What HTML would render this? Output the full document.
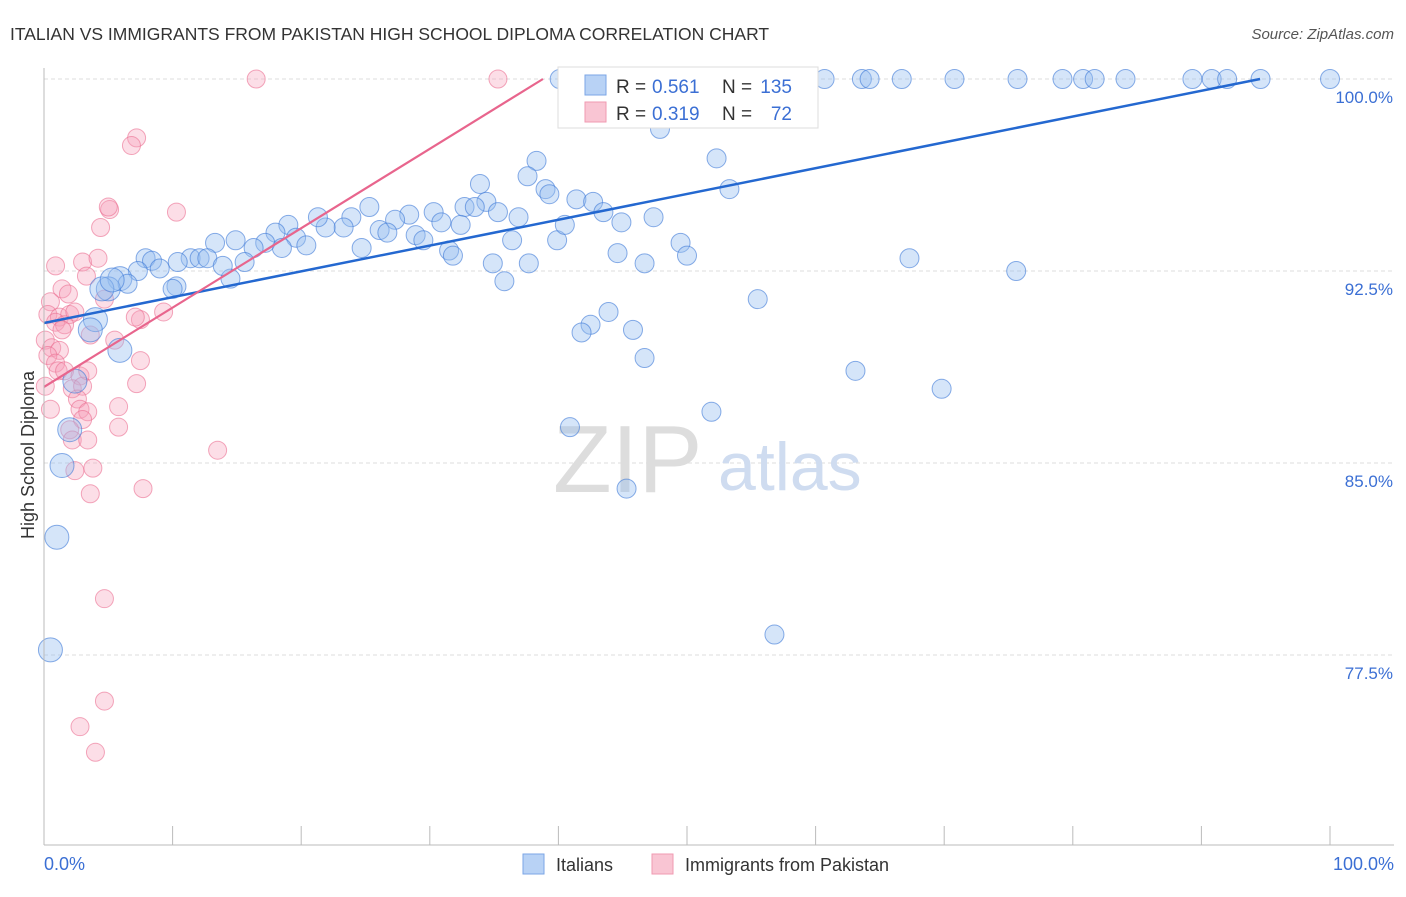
<!DOCTYPE html>
<html><head><meta charset="utf-8">
<style>
body{margin:0;background:#fff;font-family:"Liberation Sans",sans-serif;}
svg text{font-family:"Liberation Sans",sans-serif;}
</style></head>
<body>
<svg id="chart" width="1406" height="892" viewBox="0 0 1406 892" xmlns="http://www.w3.org/2000/svg">
<text x="10" y="40" font-size="17.5" fill="#333">ITALIAN VS IMMIGRANTS FROM PAKISTAN HIGH SCHOOL DIPLOMA CORRELATION CHART</text>
<text x="1394" y="39" font-size="15" fill="#555" font-style="italic" text-anchor="end">Source: ZipAtlas.com</text>
<g id="grid"></g>
<g>
<text x="553" y="492" font-size="96" fill="#ddd" font-family="Liberation Serif">ZIP</text>
<text x="718" y="490" font-size="68" fill="#cfdcf0">atlas</text>
</g>
<g id="pink"></g>
<g id="blue"></g>
<g id="lines"></g>
<g id="axes"></g>
<text transform="translate(34,455) rotate(-90)" font-size="18" fill="#333" text-anchor="middle">High School Diploma</text>
<g>
<rect x="558" y="67" width="260" height="61" fill="#fff" stroke="#ddd"/>
<rect x="585" y="75" width="21" height="20" fill="#b8d2f5" stroke="#7ba6e6"/>
<rect x="585" y="102" width="21" height="20" fill="#f9c5d3" stroke="#f09ab2"/>
<text x="616" y="93" font-size="19" fill="#333">R =</text>
<text x="652" y="93" font-size="19" fill="#3b6fd4">0.561</text>
<text x="722" y="93" font-size="19" fill="#333">N =</text>
<text x="792" y="93" font-size="19" fill="#3b6fd4" text-anchor="end">135</text>
<text x="616" y="120" font-size="19" fill="#333">R =</text>
<text x="652" y="120" font-size="19" fill="#3b6fd4">0.319</text>
<text x="722" y="120" font-size="19" fill="#333">N =</text>
<text x="792" y="120" font-size="19" fill="#3b6fd4" text-anchor="end">72</text>
</g>
<g>
<rect x="523" y="854" width="21" height="20" fill="#b8d2f5" stroke="#7ba6e6"/>
<text x="556" y="871" font-size="18" fill="#333">Italians</text>
<rect x="652" y="854" width="21" height="20" fill="#f9c5d3" stroke="#f09ab2"/>
<text x="685" y="871" font-size="18" fill="#333">Immigrants from Pakistan</text>
</g>
</svg>
<script>
const yTicks=[100,92.5,85,77.5];
const yTickLabels=["100.0%","92.5%","85.0%","77.5%"];
const xTicks=[0,10,20,30,40,50,60,70,80,90,100];
const blueX=[40.1,43.2,45.2,47.9,50.2,51.0,53.0,54.7,55.3,56.5,58.0,58.8,60.7,63.6,64.2,66.7,70.8,75.7,79.2,80.8,81.7,84.1,89.3,90.8,92.0,94.6,100,
47.9,52.3,38.3,37.6,33.9,39.0,39.3,53.3,41.4,42.7,43.5,44.9,47.4,34.4,32.7,33.5,35.3,36.9,30.3,30.9,32.4,28.4,25.3,27.3,23.9,26.1,23.3,21.9,21.3,19.0,18.0,19.6,20.4,18.5,17.2,16.3,14.9,13.3,11.4,12.1,12.7,10.4,7.9,8.4,9.0,7.3,5.9,6.5,5.0,4.5,5.3,4.0,3.6,5.9,2.4,2.0,1.4,1.0,0.5,10.3,10.0,14.5,15.6,13.9,24.7,26.7,28.9,29.5,31.5,31.8,34.9,35.8,37.7,36.4,39.9,40.5,44.6,46.7,49.5,50.0,67.3,75.6,55.5,43.9,42.5,41.8,45.8,46.7,63.1,69.8,51.9,40.9,45.3,56.8,54.5];
const blueY=[100,100,100,100,100,100,100,100,100,100,100,100,100,100,100,100,100,100,100,100,100,100,100,100,100,100,100,
98.05,96.9,96.8,96.2,95.9,95.7,95.5,95.7,95.3,95.2,94.8,94.4,94.6,95.2,95.0,95.0,94.8,94.6,94.8,94.4,94.3,94.7,95.0,94.5,94.6,94.1,94.2,94.2,94.6,94.3,94.0,93.8,93.5,93.4,93.6,93.4,93.7,93.6,93.0,93.0,93.0,92.85,93.0,92.9,92.6,92.5,92.2,92.0,91.8,91.8,92.15,90.6,90.2,89.4,88.2,86.3,84.9,82.1,77.7,91.9,91.8,92.2,92.85,92.7,93.4,94.0,93.9,93.7,93.3,93.1,92.8,92.1,92.8,93.7,93.7,94.3,93.2,92.8,93.6,93.1,93.0,92.5,91.4,90.9,90.4,90.1,90.2,89.1,88.6,87.9,87.0,86.4,84.0,78.3,98.9];
const pinkX=[16.5,35.3,7.2,6.8,10.3,5.1,5.0,4.4,0.9,3.0,4.2,3.3,1.4,1.9,4.7,0.5,0.3,1.2,2.0,2.4,0.9,1.6,1.4,3.6,0.1,0.6,1.2,0.3,0.9,1.1,0.1,1.6,2.8,2.2,3.0,2.6,3.4,5.5,7.5,7.1,9.3,7.5,7.2,5.8,2.8,3.4,3.0,0.5,2.0,2.2,3.4,3.8,2.4,3.6,7.7,5.8,13.5,4.7,4.7,2.8,4.0];
const pinkY=[100,100,97.7,97.4,94.8,94.9,95.0,94.2,92.7,92.85,93.0,92.3,91.8,91.6,91.4,91.3,90.8,90.7,90.8,90.9,90.5,90.4,90.2,90.0,89.8,89.5,89.4,89.2,88.9,88.6,88.0,88.6,88.4,87.9,88.0,87.5,88.6,89.8,90.6,90.7,90.9,89.0,88.1,87.2,87.1,87.0,86.7,87.1,86.3,85.9,85.9,84.8,84.7,83.8,84.0,86.4,85.5,79.7,75.7,74.7,73.7];
const blueLine=[[0,90.47],[94.56,100]];
const pinkLine=[[0,87.97],[38.8,100]];

const NS="http://www.w3.org/2000/svg";
const X0=44,X1=1330,YTOP=79,PXY=25.6;
function sx(v){return X0+(X1-X0)*v/100;}
function sy(v){return YTOP+(100-v)*PXY;}
function mk(tag,attrs,parent){const e=document.createElementNS(NS,tag);for(const k in attrs)e.setAttribute(k,attrs[k]);parent.appendChild(e);return e;}
const grid=document.getElementById('grid');
yTicks.forEach((t,i)=>{
  const l=mk('line',{x1:X0,x2:1394,y1:sy(t),y2:sy(t),stroke:'#ddd','stroke-dasharray':'4,3'},grid);
  
  
  const tx=mk('text',{x:1393,y:sy(t)+24,'font-size':17,fill:'#3b6fd4','text-anchor':'end'},grid);
  tx.textContent=yTickLabels[i];
  
  
});
const axes=document.getElementById('axes');
let a=mk('line',{x1:X0,x2:X0,y1:68,y2:845,stroke:'#bbb'},axes);


a=mk('line',{x1:X0,x2:1394,y1:845,y2:845,stroke:'#bbb'},axes);


xTicks.forEach(t=>{
  const l=mk('line',{x1:sx(t),x2:sx(t),y1:826,y2:845,stroke:'#bbb'},axes);
  
  
});
let xl=mk('text',{x:44,y:870,'font-size':18,fill:'#3b6fd4'},axes);xl.textContent='0.0%';


xl=mk('text',{x:1394,y:870,'font-size':18,fill:'#3b6fd4','text-anchor':'end'},axes);xl.textContent='100.0%';



const pink=document.getElementById('pink');
pinkX.forEach((x,i)=>{
  const c=mk('circle',{cx:sx(x),cy:sy(pinkY[i]),r:9,fill:'rgba(246,160,185,0.35)',stroke:'rgba(235,110,145,0.6)','stroke-width':1},pink);
  
  
});
const blue=document.getElementById('blue');
blueX.forEach((x,i)=>{
  const c=mk('circle',{cx:sx(x),cy:sy(blueY[i]),r:x<6?12:9.5,fill:'rgba(150,190,240,0.4)',stroke:'rgba(60,120,215,0.6)','stroke-width':1},blue);
  
  
});
const lines=document.getElementById('lines');
let ln=mk('line',{x1:sx(blueLine[0][0]),y1:sy(blueLine[0][1]),x2:sx(blueLine[1][0]),y2:sy(blueLine[1][1]),stroke:'#2468d0','stroke-width':2.5},lines);


ln=mk('line',{x1:sx(pinkLine[0][0]),y1:sy(pinkLine[0][1]),x2:sx(pinkLine[1][0]),y2:sy(pinkLine[1][1]),stroke:'#e8658d','stroke-width':2.2},lines);


</script>
</body></html>
